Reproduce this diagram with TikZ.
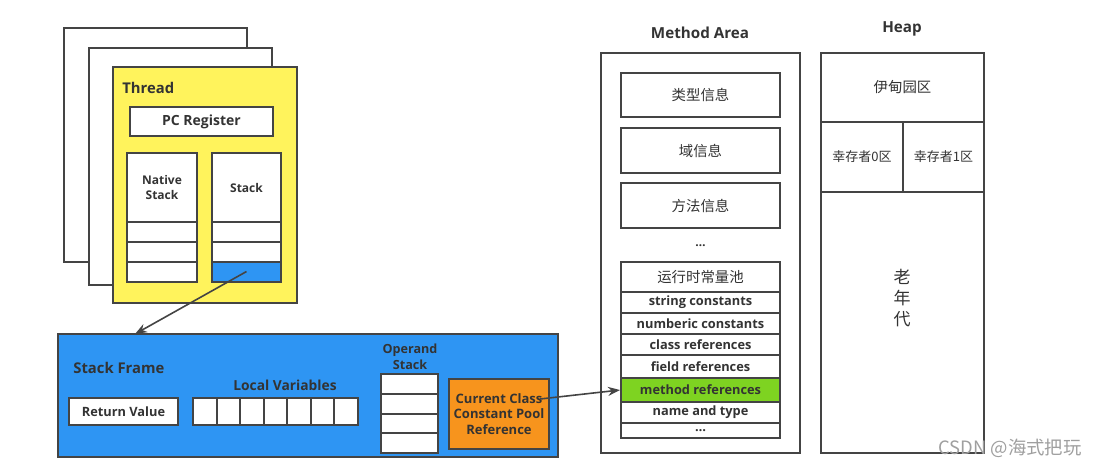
\documentclass[tikz,border=0pt]{standalone}
\usepackage{fontspec}
\setmainfont{Open Sans}
\newfontfamily\cjk{Noto Sans CJK SC}
\usetikzlibrary{arrows.meta}
\definecolor{linec}{HTML}{444444}
\definecolor{txtc}{HTML}{333333}
\definecolor{threadc}{HTML}{FFF35C}
\definecolor{framec}{HTML}{2E95F3}
\definecolor{poolc}{HTML}{F7941D}
\definecolor{mrefc}{HTML}{7ED321}
\tikzset{
  cellbox/.style={draw=linec, line width=1pt, fill=white, inner sep=0pt,
    text=txtc, font=\bfseries\fontsize{6}{7.6}\selectfont, align=center},
  areatitle/.style={text=txtc, inner sep=0pt, font=\bfseries\fontsize{7.6}{9}\selectfont},
  zh/.style={font=\cjk\fontsize{7.2}{9}\selectfont},
  rowtext/.style={font=\bfseries\fontsize{6.4}{7.6}\selectfont},
  conn/.style={draw=linec, line width=0.8pt, -{Stealth[length=6pt,width=4.5pt]}}
}
\begin{document}
\begin{tikzpicture}[x=0.5pt,y=-0.5pt]
\useasboundingbox (0,0) rectangle (1095,467);
% thread pages
\node[cellbox, minimum width=91.5pt, minimum height=117pt] (page1) at (155.5,145) {};
\node[cellbox, minimum width=91.5pt, minimum height=118.5pt] (page2) at (180.5,166.5) {};
\node[cellbox, fill=threadc, minimum width=92pt, minimum height=118pt] (thread) at (205,185) {};
\node[areatitle, anchor=west, font=\bfseries\fontsize{7.4}{9}\selectfont] (threadlbl) at (122,88) {Thread};
\node[cellbox, font=\bfseries\fontsize{7}{8}\selectfont, minimum width=71.5pt, minimum height=14.5pt] (pc) at (201.5,121.5) {PC Register};
\node[cellbox, minimum width=35pt, minimum height=34.5pt] (native) at (162,187.5) {Native\\Stack};
\node[cellbox, minimum width=34.5pt, minimum height=34.5pt] (stack) at (246.5,187.5) {Stack};
\foreach \y/\n in {232/1,252/2,271.5/3}
  \node[cellbox, minimum width=35pt, minimum height=10pt] (ns\n) at (162,\y) {};
\foreach \y/\n/\c in {232/1/white,252/2/white,271.5/3/framec}
  \node[cellbox, fill=\c, minimum width=34.5pt, minimum height=10pt] (sc\n) at (246.5,\y) {};

% stack frame
\node[cellbox, fill=framec, minimum width=250pt, minimum height=61.5pt] (frame) at (308,395.5) {};
\node[areatitle, anchor=west, font=\bfseries\fontsize{7.4}{9}\selectfont] (framelbl) at (73,368) {Stack Frame};
\node[cellbox, rowtext, minimum width=54.5pt, minimum height=13.5pt] (ret) at (123.5,411.5) {Return Value};
\node[areatitle, font=\bfseries\fontsize{6.9}{8}\selectfont] (lvlbl) at (285,385) {Local Variables};
\foreach \i in {0,...,6}
  \node[cellbox, minimum width=11.8pt, minimum height=13.5pt] (lv\i) at ({204.8+23.57*\i},411.5) {};
\node[areatitle, align=center, font=\bfseries\fontsize{6.3}{8}\selectfont] (oplbl) at (410,357) {Operand\\Stack};
\foreach \y/\n in {383.9/1,403.6/2,423.4/3,443.1/4}
  \node[cellbox, minimum width=28.5pt, minimum height=9.9pt] (os\n) at (409.5,\y) {};
\node[cellbox, fill=poolc, font=\bfseries\fontsize{6.5}{7.8}\selectfont, minimum width=50pt, minimum height=35pt] (cp) at (499,414) {Current Class\\Constant Pool\\Reference};

% method area
\node[areatitle] (malbl) at (700,33) {Method Area};
\node[cellbox, minimum width=99.5pt, minimum height=200pt] (marea) at (700.5,253) {};
\node[cellbox, zh, minimum width=79.5pt, minimum height=22pt] (typeinfo) at (700.5,95) {类型信息};
\node[cellbox, zh, minimum width=79.5pt, minimum height=22.5pt] (fieldinfo) at (700.5,150.5) {域信息};
\node[cellbox, zh, minimum width=79.5pt, minimum height=22.5pt] (methinfo) at (700.5,205.5) {方法信息};
\node[areatitle, font=\bfseries\fontsize{6}{7}\selectfont] (madots) at (700.5,246) {\dots};
\node[cellbox, zh, minimum width=79.5pt, minimum height=15pt] (p0) at (700.5,277) {运行时常量池};
\foreach \t/\b/\txt/\c/\n in {292/313/string constants/white/p1,
    313/334/numberic constants/white/p2,
    334/355/class references/white/p3,
    355/378/field references/white/p4,
    378/402/method references/mrefc/p5,
    402/423/name and type/white/p6,
    423/438/\dots/white/p7}
  \node[cellbox, rowtext, fill=\c, minimum width=79.5pt, minimum height={(\b-\t)*0.5pt}] (\n) at (700.5,{(\t+\b)/2}) {\txt};

% heap
\node[areatitle] (heaplbl) at (902,29) {Heap};
\node[cellbox, zh, minimum width=81.5pt, minimum height=34.5pt] (eden) at (902.5,87.5) {伊甸园区};
\node[cellbox, zh, font=\cjk\fontsize{6.5}{8}\selectfont, minimum width=41pt, minimum height=35pt] (sz0) at (862,157) {幸存者0区};
\node[cellbox, zh, font=\cjk\fontsize{6.5}{8}\selectfont, minimum width=40.5pt, minimum height=35pt] (sz1) at (943.5,157) {幸存者1区};
\node[cellbox, minimum width=81.5pt, minimum height=130.5pt] (old) at (902.5,322.5) {};
\node[text=txtc, align=center, inner sep=0pt, font=\cjk\fontsize{8.5}{10.5}\selectfont] (oldlbl) at (902,298) {老\\年\\代};

% connectors
\coordinate (hit) at (135,334);
\draw[conn] (sc3.center) -- (hit);
\draw[conn] ([shift={(-10,-15)}]cp.east) -- (p5.west);

\node[anchor=east, text=gray!75, inner sep=0pt, font=\cjk\fontsize{9.2}{10}\selectfont] (mark) at (1082,448) {CSDN @海式把玩};
\end{tikzpicture}
\end{document}
